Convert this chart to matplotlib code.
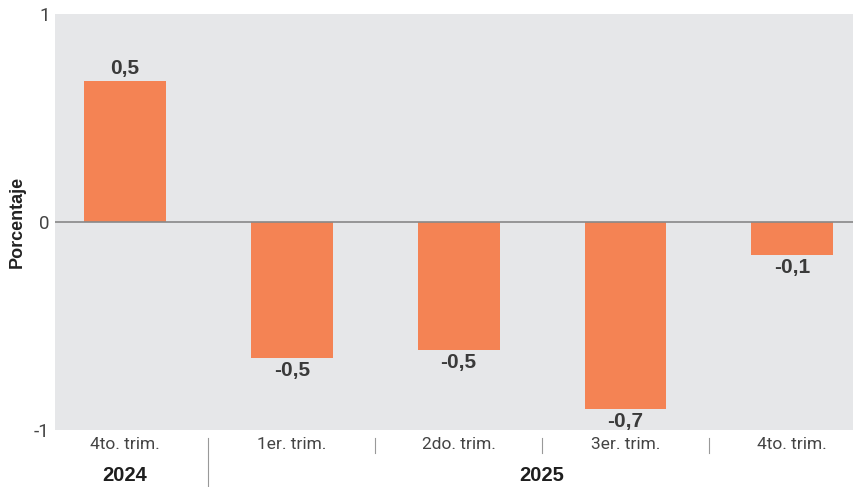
import numpy as np
import matplotlib.pyplot as plt

plt.rcParams['font.family'] = ['Liberation Sans', 'DejaVu Sans']

# datos
trimestres = ['4to. trim.', '1er. trim.', '2do. trim.', '3er. trim.', '4to. trim.']
valores = [0.68, -0.655, -0.615, -0.90, -0.16]
etiquetas = ['0,5', '-0,5', '-0,5', '-0,7', '-0,1']
anios = ['2024', '2025']
grupos = [[0], [1, 2, 3, 4]]

naranja = '#f48354'
fondo = '#e6e7e9'
texto = '#3a3a3a'

fig = plt.figure(figsize=(8.54, 4.87), dpi=100)
ax = fig.add_axes([55/854, 57/487, 799/854, 416/487])
ax.set_facecolor(fondo)

x = np.arange(len(valores))
ax.bar(x, valores, width=0.49, color=naranja, zorder=2)
ax.axhline(0, color='#888888', lw=1.2, zorder=3)

for xi, v, lab in zip(x, valores, etiquetas):
    if v >= 0:
        ax.text(xi, v + 0.012, lab, ha='center', va='bottom', fontsize=15,
                fontweight='bold', color=texto)
    else:
        ax.text(xi, v - 0.015, lab, ha='center', va='top', fontsize=15,
                fontweight='bold', color=texto)

ax.set_xlim(-0.42, 4.37)
ax.set_ylim(-1, 1)
ax.set_yticks([-1, 0, 1])
ax.set_yticklabels(['-1', '0', '1'], fontsize=13.5, color='#444444',
                   family='Roboto', fontweight='normal')
ax.tick_params(axis='y', length=0, pad=4)
ax.set_xticks(x)
ax.set_xticklabels(trimestres, fontsize=12.5, color='#444444',
                   family='Roboto', fontweight='normal')
ax.tick_params(axis='x', length=0, pad=5)
for s in ax.spines.values():
    s.set_visible(False)

ax.set_ylabel('Porcentaje', fontsize=13, fontweight='bold', color='#222222', labelpad=6)

# separadores y anios
trans = ax.get_xaxis_transform()
for xi in x[1:-1] + 0.5:
    ax.plot([xi, xi], [-0.02, -0.055], color='#999999', lw=0.8,
            transform=trans, clip_on=False)
ax.plot([0.5, 0.5], [-0.02, -0.175], color='#999999', lw=0.8,
        transform=trans, clip_on=False)
for anio, g in zip(anios, grupos):
    ax.text(np.mean(g), -0.11, anio, transform=trans, ha='center', va='center',
            fontsize=14.5, fontweight='bold', color='#1e1e1e')

fig.savefig('out.png', dpi=100)
